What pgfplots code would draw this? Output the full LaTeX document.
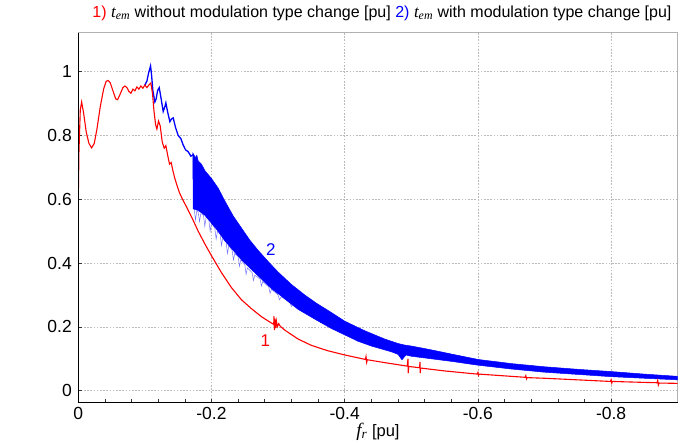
\documentclass[border=0pt]{standalone}
\usepackage{fontspec}
\setmainfont{Liberation Sans}
\newfontfamily\tfont{Liberation Serif}
\usepackage{pgfplots}
\pgfplotsset{compat=1.18}

\begin{document}
\begin{tikzpicture}[x=1pt,y=1pt]
\begin{axis}[
  at={(0,0)}, anchor=south west,
  scale only axis, width=599.4pt, height=370pt,
  xmin=-0.9, xmax=0, ymin=-0.0376, ymax=1.122,
  x dir=reverse,
  xtick={-0.8,-0.6,-0.4,-0.2,0},
  xticklabels={-0.8,-0.6,-0.4,-0.2,0},
  ytick={0,0.2,0.4,0.6,0.8,1},
  yticklabels={0,0.2,0.4,0.6,0.8,1},
  minor x tick num=4,
  tick pos=left, tick align=inside,
  major tick length=4pt, minor tick length=4pt,
  tick style={black!80, line width=0.6pt},
  grid=major,
  major grid style={gray!55, dash pattern=on 1.6pt off 1.6pt, line width=0.7pt},
  axis line style={gray!60, line width=0.7pt},
  ticklabel style={font=\fontsize{17.5}{19}\selectfont},
  xticklabel style={yshift=-1pt},
  yticklabel style={xshift=-3pt},
  xlabel={{\tfont\itshape\fontsize{19}{20}\selectfont f\textsubscript{r}} [pu]},
  xlabel style={at={(axis description cs:0.5,0)}, anchor=center, yshift=-29pt,
    font=\fontsize{16.5}{18}\selectfont},
  title={{\color{red}1)} {\tfont\itshape\fontsize{17}{18}\selectfont t\textsubscript{em}} without modulation type change [pu]\ {\color{blue}2)} {\tfont\itshape\fontsize{17}{18}\selectfont t\textsubscript{em}} with modulation type change [pu]},
  title style={at={(axis description cs:0.5,1)}, anchor=base, yshift=9.4pt, xshift=4pt,
    font=\fontsize{16}{18}\selectfont},
]
% band of curve 2, light spikes under it
\addplot[blue!55, line width=0.5pt] coordinates {
(-0.174,0.57)(-0.176,0.535)(-0.178,0.565)(-0.180,0.56)(-0.182,0.53)(-0.184,0.555)
(-0.188,0.55)(-0.190,0.515)(-0.192,0.545)(-0.196,0.535)(-0.198,0.50)(-0.200,0.525)
(-0.205,0.51)(-0.207,0.475)(-0.209,0.50)(-0.213,0.49)(-0.215,0.455)(-0.217,0.48)
(-0.222,0.465)(-0.224,0.43)(-0.226,0.455)(-0.231,0.44)(-0.233,0.41)(-0.235,0.43)
(-0.240,0.42)(-0.242,0.39)(-0.244,0.41)(-0.250,0.395)(-0.252,0.365)(-0.254,0.385)
(-0.261,0.37)(-0.263,0.345)(-0.265,0.362)(-0.273,0.35)(-0.275,0.328)(-0.277,0.342)
(-0.286,0.325)(-0.288,0.305)(-0.290,0.318)(-0.300,0.30)(-0.302,0.285)(-0.305,0.295)
(-0.318,0.275)(-0.320,0.264)(-0.323,0.272)
};
\addplot[blue, fill=blue, line width=0.5pt] coordinates {
(-0.172,0.745)(-0.176,0.73)(-0.178,0.738)(-0.18,0.72)(-0.185,0.71)(-0.19,0.69)
(-0.20,0.665)(-0.21,0.635)(-0.22,0.595)(-0.2325,0.548)(-0.245,0.51)(-0.2575,0.472)
(-0.27,0.44)(-0.285,0.405)(-0.30,0.372)(-0.32,0.333)(-0.34,0.30)(-0.357,0.275)
(-0.38,0.245)(-0.40,0.218)(-0.43,0.188)(-0.46,0.162)(-0.48,0.148)(-0.49,0.143)
(-0.50,0.140)(-0.53,0.128)(-0.56,0.115)(-0.60,0.098)(-0.65,0.085)(-0.70,0.075)
(-0.75,0.067)(-0.80,0.06)(-0.85,0.052)(-0.90,0.045)
(-0.90,0.034)(-0.85,0.039)(-0.80,0.044)(-0.75,0.051)(-0.70,0.058)(-0.65,0.068)
(-0.60,0.08)(-0.56,0.092)(-0.53,0.10)(-0.50,0.108)(-0.492,0.112)(-0.486,0.097)
(-0.480,0.114)(-0.47,0.122)(-0.44,0.14)(-0.42,0.155)(-0.40,0.175)(-0.38,0.195)
(-0.357,0.222)(-0.33,0.255)(-0.307,0.293)(-0.29,0.32)(-0.275,0.35)(-0.2575,0.385)
(-0.245,0.41)(-0.2325,0.44)(-0.22,0.47)(-0.21,0.50)(-0.20,0.525)(-0.19,0.55)
(-0.18,0.565)(-0.1725,0.57)
} -- cycle;
% curve 2 before the band
\addplot[blue, line width=1.3pt] coordinates {
(-0.100,0.958)(-0.103,0.97)(-0.1055,0.995)(-0.1085,1.018)(-0.110,0.99)(-0.112,0.94)
(-0.115,0.905)(-0.117,0.915)(-0.119,0.94)(-0.1215,0.95)(-0.124,0.92)(-0.1275,0.875)
(-0.130,0.89)(-0.1315,0.902)(-0.134,0.875)(-0.1375,0.843)(-0.140,0.852)(-0.1425,0.855)
(-0.146,0.825)(-0.150,0.80)(-0.154,0.79)(-0.1575,0.77)(-0.161,0.755)(-0.165,0.749)
(-0.169,0.735)(-0.1725,0.74)
};
% curve 1
\addplot[red, line width=1.1pt] coordinates {
(0,0.60)(-0.001,0.75)(-0.003,0.88)(-0.005,0.905)(-0.008,0.87)(-0.012,0.81)
(-0.016,0.775)(-0.020,0.761)(-0.024,0.775)(-0.028,0.82)(-0.033,0.89)(-0.038,0.945)
(-0.042,0.97)(-0.045,0.972)(-0.048,0.965)(-0.052,0.94)(-0.056,0.915)(-0.059,0.912)
(-0.063,0.93)(-0.067,0.95)(-0.070,0.955)(-0.073,0.95)(-0.076,0.938)(-0.079,0.932)
(-0.082,0.945)(-0.085,0.94)(-0.088,0.952)(-0.091,0.945)(-0.094,0.955)(-0.097,0.948)
(-0.100,0.958)(-0.103,0.95)(-0.106,0.958)(-0.109,0.964)(-0.1115,0.93)(-0.1135,0.88)
(-0.116,0.835)(-0.118,0.82)(-0.1205,0.845)(-0.123,0.83)(-0.126,0.78)(-0.129,0.76)
(-0.1315,0.768)(-0.134,0.74)(-0.137,0.71)(-0.1395,0.715)(-0.142,0.69)(-0.145,0.665)
(-0.148,0.645)(-0.152,0.62)(-0.157,0.598)(-0.162,0.578)(-0.170,0.545)(-0.180,0.50)
(-0.190,0.46)(-0.200,0.423)(-0.215,0.37)(-0.230,0.323)(-0.245,0.285)(-0.260,0.257)
(-0.275,0.232)(-0.290,0.212)(-0.2935,0.208)(-0.2937,0.234)(-0.2945,0.19)(-0.2955,0.226)
(-0.2965,0.196)(-0.2975,0.218)(-0.299,0.201)(-0.301,0.21)(-0.303,0.203)(-0.305,0.199)
(-0.31,0.19)(-0.33,0.162)(-0.35,0.142)(-0.375,0.125)(-0.40,0.112)(-0.431,0.098)
(-0.432,0.107)(-0.433,0.089)(-0.434,0.097)(-0.46,0.088)(-0.494,0.077)(-0.495,0.10)
(-0.4955,0.055)(-0.496,0.076)(-0.5125,0.072)(-0.513,0.09)(-0.5135,0.055)(-0.514,0.071)
(-0.55,0.062)(-0.599,0.052)(-0.600,0.057)(-0.601,0.048)(-0.602,0.052)(-0.65,0.045)
(-0.671,0.042)(-0.672,0.047)(-0.673,0.037)(-0.674,0.041)(-0.70,0.039)(-0.75,0.034)
(-0.799,0.029)(-0.800,0.034)(-0.801,0.024)(-0.802,0.029)(-0.85,0.026)(-0.869,0.025)
(-0.870,0.032)(-0.871,0.018)(-0.872,0.024)(-0.90,0.023)
};
\node[text=blue, font=\fontsize{17}{18}\selectfont] at (axis cs:-0.289,0.441) {2};
\node[text=red, font=\fontsize{17}{18}\selectfont] at (axis cs:-0.281,0.158) {1};
\end{axis}
\draw[black, line width=1.3pt] (current axis.north west) -- (current axis.south west) -- (current axis.south east);
\pgfresetboundingbox
\path (-78.3,-40.3) rectangle (605.7,402.7);
\end{tikzpicture}
\end{document}
